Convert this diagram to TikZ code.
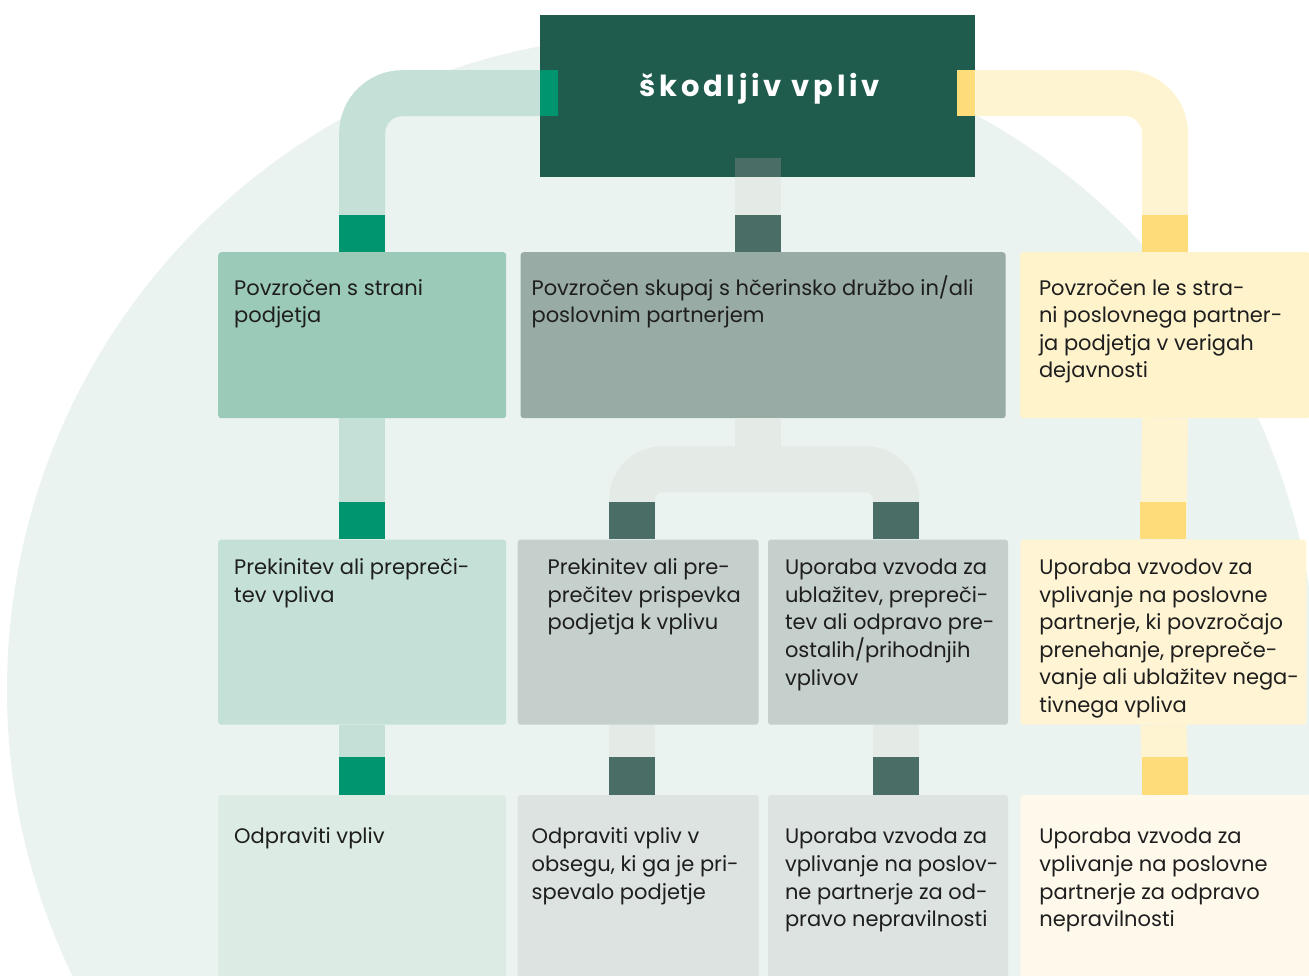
\documentclass[tikz,border=0pt]{standalone}
\usepackage{fontspec}
\setmainfont{Poppins}
\usetikzlibrary{positioning}

\definecolor{bgcircle}{HTML}{EAF3F0}
\definecolor{titlebg}{HTML}{1F5C4E}
\definecolor{gdark}{HTML}{00956E}
\definecolor{gpipe}{HTML}{C5E1D7}
\definecolor{gbox1}{HTML}{9BCAB9}
\definecolor{gbox2}{HTML}{C5E1D7}
\definecolor{gbox3}{HTML}{DCEBE4}
\definecolor{tdark}{HTML}{4A6E66}
\definecolor{tpipe}{HTML}{E4EAE6}
\definecolor{tbox1}{HTML}{98ABA4}
\definecolor{tbox2}{HTML}{C5CFCB}
\definecolor{tbox3}{HTML}{DCE3E0}
\definecolor{ydark}{HTML}{FFDC7A}
\definecolor{ypipe}{HTML}{FFF4D1}
\definecolor{ybox1}{HTML}{FFF3CC}
\definecolor{ybox2}{HTML}{FFF4D3}
\definecolor{ybox3}{HTML}{FFF9EC}
\definecolor{ink}{HTML}{1E1E1E}

\newcommand{\boxlines}[1]{\begin{tabular}[t]{@{}l@{}}#1\end{tabular}}

\begin{document}
\begin{tikzpicture}[x=1pt, y=-1pt,
    box/.style={rectangle, rounded corners=3pt, inner sep=0pt, minimum width=#1},
    row1/.style={minimum height=166},
    row2/.style={minimum height=185},
    row3/.style={minimum height=195},
    txt/.style={anchor=base west, inner sep=0pt, text=ink,
        font=\fontsize{21}{27.6}\selectfont},
    pipe/.style={line width=46pt},
    tab/.style={line width=46pt}]

\useasboundingbox (0,0) rectangle (1309,975);
\clip (0,0) rectangle (1309,975);
\fill[bgcircle] (662,690) circle[radius=655];

% title
\node[box=435, rounded corners=0pt, fill=titlebg, minimum height=162, anchor=north west]
    (impact) at (540,15) {};
\node[inner sep=0pt, text=white, font=\fontsize{29}{32}\selectfont\bfseries\addfontfeature{LetterSpace=13}]
    (impactt) at ([xshift=2pt, yshift=7pt]impact.center) {škodljiv vpliv};

% first row
\node[box=288, row1, fill=gbox1, anchor=north west] (p1) at (218,252) {};
\node[box=485, row1, fill=tbox1, right=14pt of p1] (p2) {};
\node[box=290, row1, fill=ybox1, right=14pt of p2] (p3) {};

% second row
\node[box=288, row2, fill=gbox2, below=121pt of p1] (q1) {};
\node[box=241, row2, fill=tbox2, right=11pt of q1] (q2) {};
\node[box=240, row2, fill=tbox2, right=9pt of q2] (q3) {};
\node[box=286, row2, fill=ybox2, right=12pt of q3] (q4) {};

% third row
\node[box=288, row3, fill=gbox3, below=70pt of q1] (r1) {};
\node[box=241, row3, fill=tbox3, right=11pt of r1] (r2) {};
\node[box=240, row3, fill=tbox3, right=9pt of r2] (r3) {};
\node[box=290, row3, fill=ybox3, right=12pt of r3] (r4) {};

% pipes
\draw[pipe, gpipe, rounded corners=40pt] ([yshift=3pt]impact.west) -| (p1.north);
\draw[pipe, ypipe, rounded corners=40pt] ([yshift=3pt]impact.east) -| (p3.north);
\draw[pipe, tpipe] (impact.south) -- (impact.south |- p2.north);
\draw[pipe, gpipe] (p1.south) -- (q1.north);
\draw[pipe, ypipe] (p3.south) -- (q4.north);
\coordinate (fork) at ([yshift=-51pt]impact.south |- p2.south);
\draw[pipe, tpipe] (impact.south |- p2.south) -- (fork);
\draw[pipe, tpipe, rounded corners=30pt] ([xshift=-6pt]q2.north) |- (fork) -| ([xshift=8pt]q3.north);
\draw[pipe, gpipe] (q1.south) -- (r1.north);
\draw[pipe, tpipe] ([xshift=-6pt]q2.south) -- ([xshift=-6pt]r2.north);
\draw[pipe, tpipe] ([xshift=8pt]q3.south) -- ([xshift=8pt]r3.north);
\draw[pipe, ypipe] (q4.south) -- (r4.north);

% tabs
\draw[tab, gdark] ([yshift=3pt]impact.west) -- ++(18,0);
\draw[tab, ydark] ([yshift=3pt]impact.east) -- ++(-18,0);
\draw[tab, tdark] (impact.south) -- ++(0,-19);
\draw[tab, gdark] (p1.north) -- ++(0,-37);
\draw[tab, tdark] (impact.south |- p2.north) -- ++(0,-37);
\draw[tab, ydark] (p3.north) -- ++(0,-37);
\draw[tab, gdark] (q1.north) -- ++(0,-37);
\draw[tab, tdark] ([xshift=-6pt]q2.north) -- ++(0,-37);
\draw[tab, tdark] ([xshift=8pt]q3.north) -- ++(0,-37);
\draw[tab, ydark] (q4.north) -- ++(0,-37);
\draw[tab, gdark] (r1.north) -- ++(0,-38);
\draw[tab, tdark] ([xshift=-6pt]r2.north) -- ++(0,-38);
\draw[tab, tdark] ([xshift=8pt]r3.north) -- ++(0,-38);
\draw[tab, ydark] (r4.north) -- ++(0,-38);

% texts
\node[txt] (p1t) at ([xshift=16pt, yshift=-43pt]p1.north west) {\boxlines{Povzročen s strani\\podjetja}};
\node[txt] (p2t) at ([xshift=11pt, yshift=-43pt]p2.north west) {\boxlines{Povzročen skupaj s hčerinsko družbo in/ali\\poslovnim partnerjem}};
\node[txt] (p3t) at ([xshift=19pt, yshift=-43pt]p3.north west) {\boxlines{Povzročen le s stra-\\ni poslovnega partner-\\ja podjetja v verigah\\dejavnosti}};
\node[txt] (q1t) at ([xshift=16pt, yshift=-35pt]q1.north west) {\boxlines{Prekinitev ali prepreči-\\tev vpliva}};
\node[txt] (q2t) at ([xshift=30pt, yshift=-35pt]q2.north west) {\boxlines{Prekinitev ali pre-\\prečitev prispevka\\podjetja k vplivu}};
\node[txt] (q3t) at ([xshift=17pt, yshift=-35pt]q3.north west) {\boxlines{Uporaba vzvoda za\\ublažitev, prepreči-\\tev ali odpravo pre-\\ostalih/prihodnjih\\vplivov}};
\node[txt] (q4t) at ([xshift=19pt, yshift=-35pt]q4.north west) {\boxlines{Uporaba vzvodov za\\vplivanje na poslovne\\partnerje, ki povzročajo\\prenehanje, prepreče-\\vanje ali ublažitev nega-\\tivnega vpliva}};
\node[txt] (r1t) at ([xshift=16pt, yshift=-49pt]r1.north west) {\boxlines{Odpraviti vpliv}};
\node[txt] (r2t) at ([xshift=14pt, yshift=-49pt]r2.north west) {\boxlines{Odpraviti vpliv v\\obsegu, ki ga je pri-\\spevalo podjetje}};
\node[txt] (r3t) at ([xshift=17pt, yshift=-49pt]r3.north west) {\boxlines{Uporaba vzvoda za\\vplivanje na poslov-\\ne partnerje za od-\\pravo nepravilnosti}};
\node[txt] (r4t) at ([xshift=19pt, yshift=-49pt]r4.north west) {\boxlines{Uporaba vzvoda za\\vplivanje na poslovne\\partnerje za odpravo\\nepravilnosti}};
\end{tikzpicture}
\end{document}
